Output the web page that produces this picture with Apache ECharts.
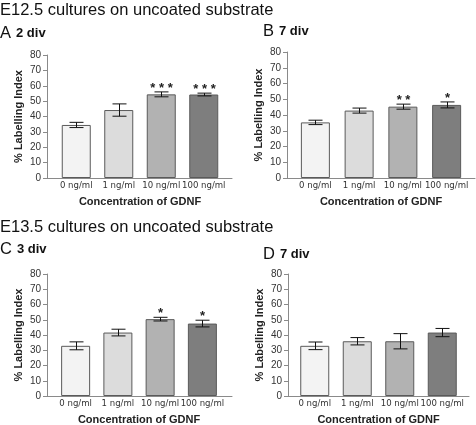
<!DOCTYPE html>
<html><head><meta charset="utf-8">
<script src="https://cdn.jsdelivr.net/npm/echarts@6/dist/echarts.min.js"></script>
<style>html,body{margin:0;padding:0;background:#fff}#c{width:476px;height:425px}</style>
</head><body><div id="c"></div>
<script>
// ---- data ----
const categories = ['0 ng/ml', '1 ng/ml', '10 ng/ml', '100 ng/ml'];
const yTicksMax = 80;
const yTickStep = 10;

const meanA = [34.5, 44.2, 54.4, 54.3];
const errA  = [1.7, 4.0, 1.6, 0.9];
const starsA = ['', '', '* * *', '* * *'];

const meanB = [35.3, 42.8, 45.3, 46.4];
const errB  = [1.4, 1.6, 1.6, 1.9];
const starsB = ['', '', '* *', '*'];

const meanC = [32.9, 41.6, 50.4, 47.5];
const errC  = [2.6, 2.2, 1.2, 2.2];
const starsC = ['', '', '*', '*'];

const meanD = [32.9, 35.9, 35.9, 41.6];
const errD  = [2.5, 2.4, 5.0, 2.7];
const starsD = ['', '', '', ''];

// ---- styles ----
const barColors = ['#f3f3f3', '#dcdcdc', '#b2b2b2', '#7e7e7e'];
const FONT = '"Liberation Sans", Arial, sans-serif';
const NARROW = '"Liberation Sans Narrow", "Arial Narrow", "DejaVu Sans Condensed", sans-serif';
const axisColor = '#8a8a8a';
const labelColor = '#333';

// panel layout: axis grid (frame) + bar grid (inner)
const panels = [
  {mean: meanA, err: errA, stars: starsA, frame: {left: 47, top: 55, width: 185, height: 123}, inner: {left: 55, width: 170}},
  {mean: meanB, err: errB, stars: starsB, frame: {left: 287, top: 52, width: 188, height: 126}, inner: {left: 293.5, width: 175}},
  {mean: meanC, err: errC, stars: starsC, frame: {left: 47, top: 274, width: 185, height: 122}, inner: {left: 54.5, width: 169}},
  {mean: meanD, err: errD, stars: starsD, frame: {left: 288, top: 274, width: 181, height: 122}, inner: {left: 293.5, width: 170}}
];

const grid = [], xAxis = [], yAxis = [], series = [];
panels.forEach((p, k) => {
  const gFrame = grid.length;
  grid.push({left: p.frame.left, top: p.frame.top, width: p.frame.width, height: p.frame.height, outerBoundsMode: 'none', containLabel: false});
  const gInner = grid.length;
  grid.push({left: p.inner.left, top: p.frame.top, width: p.inner.width, height: p.frame.height, outerBoundsMode: 'none', containLabel: false});

  // frame axes
  xAxis.push({gridIndex: gFrame, type: 'category', data: categories,
    axisLine: {show: true, lineStyle: {color: axisColor, width: 1}},
    axisTick: {show: false}, axisLabel: {show: false}, splitLine: {show: false}});
  yAxis.push({gridIndex: gFrame, type: 'value', min: 0, max: yTicksMax, interval: yTickStep,
    name: '% Labelling Index', nameLocation: 'middle', nameGap: 23,
    nameTextStyle: {fontFamily: FONT, fontSize: 11, fontWeight: 'bold', color: '#222'},
    axisLine: {show: true, lineStyle: {color: axisColor, width: 1}},
    axisTick: {show: true, length: 4, lineStyle: {color: axisColor}},
    axisLabel: {fontFamily: FONT, fontSize: 10, color: labelColor, margin: 6},
    splitLine: {show: false}});
  // inner axes
  const xi = xAxis.length;
  xAxis.push({gridIndex: gInner, type: 'category', data: categories,
    name: 'Concentration of GDNF', nameLocation: 'middle', nameGap: 18,
    nameTextStyle: {fontFamily: FONT, fontSize: 11, fontWeight: 'bold', color: '#222'},
    axisLine: {show: false}, axisTick: {show: false},
    axisLabel: {fontFamily: NARROW, fontSize: 9.5, color: labelColor, margin: 3, interval: 0},
    splitLine: {show: false}});
  const yi = yAxis.length;
  yAxis.push({gridIndex: gInner, type: 'value', min: 0, max: yTicksMax, interval: yTickStep, show: false});

  series.push({type: 'bar', xAxisIndex: xi, yAxisIndex: yi, data: p.mean, barWidth: 29,
    itemStyle: {color: (q) => barColors[q.dataIndex], borderColor: '#5a5a5a', borderWidth: 1},
    silent: true, animation: false});
  const stars = p.stars;
  series.push({type: 'custom', xAxisIndex: xi, yAxisIndex: yi, z: 5, animation: false, silent: true,
    data: p.mean.map((m, i) => [i, m - p.err[i], m + p.err[i]]),
    encode: {x: 0, y: [1, 2]},
    renderItem: (params, api) => {
      const i = api.value(0);
      const hi = api.coord([i, api.value(2)]);
      const lo = api.coord([i, api.value(1)]);
      const x = Math.round(hi[0]) + 0.5;
      const cw = 7;
      const st = {stroke: '#111', lineWidth: 1};
      const children = [
        {type: 'line', shape: {x1: x, y1: hi[1], x2: x, y2: lo[1]}, style: st},
        {type: 'line', shape: {x1: x - cw, y1: hi[1], x2: x + cw, y2: hi[1]}, style: st},
        {type: 'line', shape: {x1: x - cw, y1: lo[1], x2: x + cw, y2: lo[1]}, style: st}
      ];
      const s = stars[params.dataIndex];
      if (s) children.push({type: 'text', style: {text: s, x: x, y: hi[1] + 3, align: 'center', verticalAlign: 'bottom',
        font: 'bold 13px ' + FONT, fill: '#222'}});
      return {type: 'group', children};
    }});
});

const titleStyle = {fontFamily: FONT, fontSize: 16.5, fontWeight: 'normal', color: '#111'};
const panelTitle = (letter, txt, left, top) => ({
  text: '{a|' + letter + '} {b|' + txt + '}', left, top, padding: 0,
  textStyle: {fontWeight: 'normal', rich: {
    a: {fontFamily: FONT, fontSize: 16.5, fontWeight: 'normal', color: '#111'},
    b: {fontFamily: FONT, fontSize: 13, fontWeight: 'bold', color: '#111'}}}
});

const option = {
  backgroundColor: '#fff',
  animation: false,
  textStyle: {fontFamily: FONT},
  title: [
    {text: 'E12.5 cultures on uncoated substrate', left: 0, top: 2, padding: 0, textStyle: titleStyle},
    panelTitle('A', '2 div', 0, 24),
    panelTitle('B', '7 div', 263, 22),
    {text: 'E13.5 cultures on uncoated substrate', left: 0, top: 219, padding: 0, textStyle: titleStyle},
    panelTitle('C', '3 div', 0, 240),
    panelTitle('D', '7 div', 263, 245)
  ],
  grid, xAxis, yAxis, series
};
const chart = echarts.init(document.getElementById('c'), null, {renderer: 'canvas', width: 476, height: 425});
chart.setOption(option);
</script>
</body></html>
